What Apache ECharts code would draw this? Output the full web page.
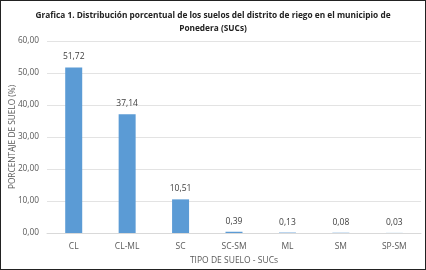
<!DOCTYPE html>
<html>
<head>
<meta charset="utf-8">
<title>Suelos Ponedera</title>
<script src="https://cdn.jsdelivr.net/npm/echarts@6/dist/echarts.min.js"></script>
<style>
  html, body { margin: 0; padding: 0; background: #fff; }
  #main { width: 424px; height: 268px; border: 1px solid #222; }
</style>
</head>
<body>
<div id="main"></div>
<script type="text/javascript">
// datos de la grafica
var categorias = ['CL', 'CL-ML', 'SC', 'SC-SM', 'ML', 'SM', 'SP-SM'];
var porcentajes = [51.72, 37.14, 10.51, 0.39, 0.13, 0.08, 0.03];
var ticksY = [0, 10, 20, 30, 40, 50, 60];

function coma(v, d) {
  return v.toFixed(d).replace('.', ',');
}

var myChart = echarts.init(document.getElementById('main'));
var option = {
  animation: false,
  textStyle: { fontFamily: 'Open Sans' },
  title: {
    text: 'Grafica 1. Distribución porcentual de los suelos del distrito de riego en el municipio de\nPonedera (SUCs)',
    left: 'center',
    top: 3,
    textStyle: { fontSize: 8.3, fontWeight: 'bold', color: '#222', lineHeight: 13 }
  },
  grid: { left: 46, right: 4, top: 40, bottom: 36, containLabel: false, outerBoundsMode: 'none' },
  xAxis: {
    type: 'category',
    data: categorias,
    name: 'TIPO DE SUELO - SUCs',
    nameLocation: 'middle',
    nameGap: 22,
    nameTextStyle: { fontSize: 8.5, color: '#595959' },
    axisLine: { lineStyle: { color: '#d9d9d9' } },
    axisTick: { show: false },
    axisLabel: { fontSize: 8.5, color: '#595959', margin: 9 }
  },
  yAxis: {
    type: 'value',
    min: ticksY[0],
    max: ticksY[ticksY.length - 1],
    interval: 10,
    name: 'PORCENTAJE DE SUELO (%)',
    nameLocation: 'middle',
    nameRotate: 90,
    nameMoveOverlap: false,
    nameGap: 30,
    nameTextStyle: { fontSize: 8.3, color: '#595959' },
    axisLine: { show: false },
    axisTick: { show: false },
    splitLine: { lineStyle: { color: '#e3e3e3' } },
    axisLabel: {
      fontSize: 8.3, color: '#595959', margin: 8,
      formatter: function (v) { return coma(v, 2); }
    }
  },
  series: [{
    type: 'bar',
    data: porcentajes,
    barWidth: 17,
    itemStyle: { color: '#5b9bd5' },
    label: {
      show: true,
      position: 'top',
      distance: 6,
      fontSize: 8.5,
      color: '#404040',
      formatter: function (p) { return coma(p.value, 2); }
    }
  }]
};
myChart.setOption(option);
</script>
</body>
</html>
